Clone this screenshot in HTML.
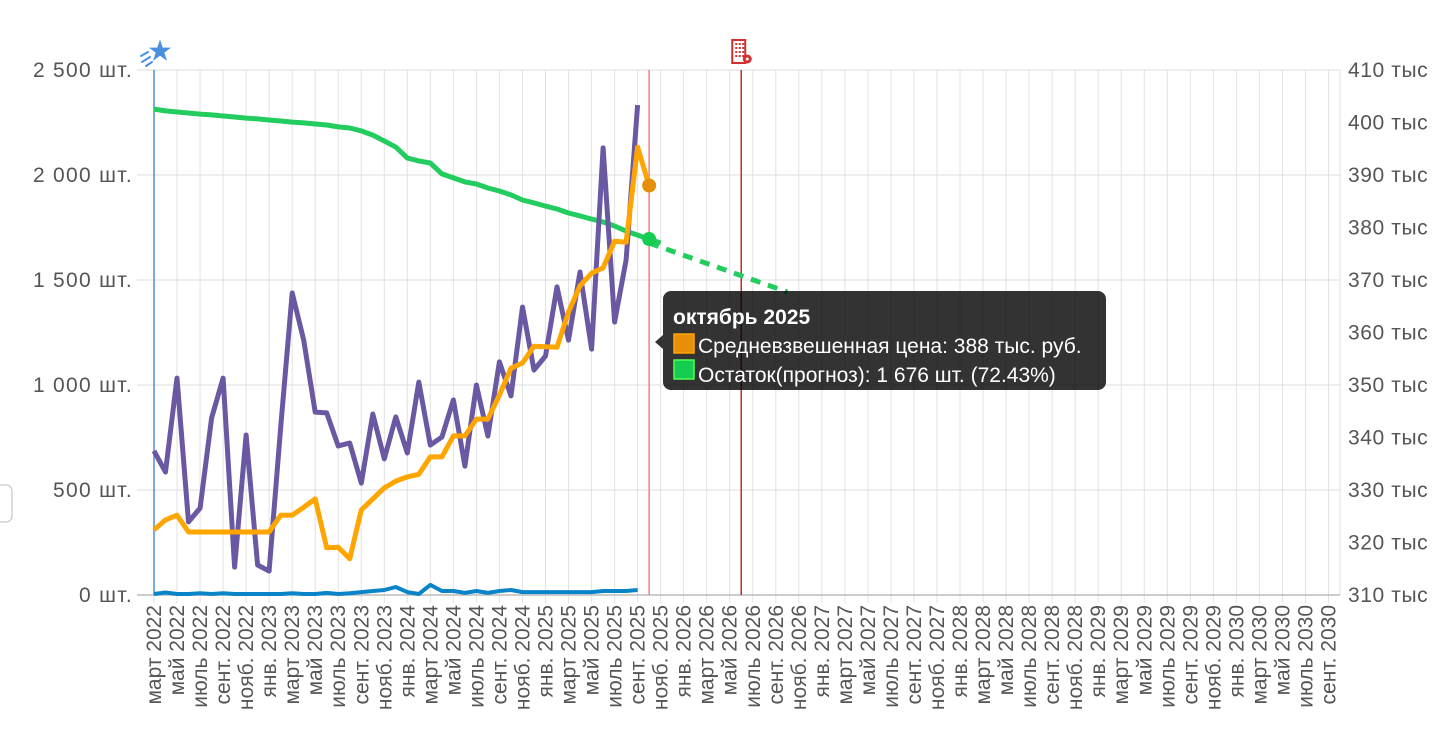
<!DOCTYPE html>
<html><head><meta charset="utf-8">
<style>
html,body{margin:0;padding:0;background:#fff;width:1432px;height:748px;overflow:hidden}
svg{display:block}
text{font-family:"Liberation Sans","Noto Sans CJK SC",sans-serif}
</style></head>
<body>
<svg width="1432" height="748" viewBox="0 0 1432 748">
<rect x="-6" y="485" width="18" height="37" rx="6" fill="#fff" stroke="#bbb"/>
<g id="grid"></g>
<g id="axes"></g>
<g id="series"></g>
<g id="tip"></g>
</svg>
<script>
const monthNames=["янв.","февр.","март","апр.","май","июнь","июль","авг.","сент.","окт.","нояб.","дек."];
const startYear=2022, startMonth=2; // March 2022
const totalMonths=103;
const leftTicks=[0,500,1000,1500,2000,2500];
const rightTicks=[310,320,330,340,350,360,370,380,390,400,410];
const salesValues=[686,585,1033,348,414,843,1033,133,762,143,114,800,1438,1214,871,867,710,724,533,862,648,848,676,1014,714,752,929,614,1000,757,1110,948,1371,1071,1138,1467,1214,1538,1171,2129,1300,1595,2333];
const priceValues=[322.4,324.3,325.2,322,322,322,322,322,322,322,322,325.2,325.2,326.7,328.3,319,319.1,316.9,326.2,328.3,330.4,331.7,332.5,333,336.3,336.3,340.3,340.3,343.5,343.5,348.1,353.2,354.2,357.4,357.3,357.2,363.9,368.9,371.3,372.3,377.4,377.2,395.3,388];
const stockValues=[2314,2305,2300,2295,2290,2286,2281,2276,2271,2267,2262,2257,2252,2248,2243,2238,2229,2224,2210,2190,2162,2133,2081,2067,2057,2005,1986,1967,1957,1938,1924,1905,1881,1867,1852,1838,1819,1805,1790,1776,1757,1733,1714,1695,1676];
const returnsValues=[5,12,5,5,8,5,8,5,5,5,5,5,8,5,5,10,5,8,14,19,24,38,14,5,48,19,19,10,19,10,19,24,14,14,14,14,14,14,14,19,19,19,24];
const forecastIdx=[43,55];
const forecastValues=[1676,1443];
const currentIdx=43, eventIdx=51;

const X0=154, X1=1340, Y0=595, Y1=70;
const xs=i=>X0+i*(X1-X0)/totalMonths;
const yL=v=>Y0-(v-0)/(2500-0)*(Y0-Y1);
const yR=v=>Y0-(v-310)/(410-310)*(Y0-Y1);
const NS="http://www.w3.org/2000/svg";
function mk(tag,attrs,parent,txt){const e=document.createElementNS(NS,tag);for(const k in attrs)e.setAttribute(k,attrs[k]);if(txt!==undefined)e.textContent=txt;parent.appendChild(e);return e;}
const grid=document.getElementById('grid'),axes=document.getElementById('axes'),ser=document.getElementById('series'),tip=document.getElementById('tip');
function fmt(n){return String(n).replace(/\B(?=(\d{3})+(?!\d))/g,' ');}

for(let i=0;i<=totalMonths;i+=2){
  const l=mk('line',{x1:xs(i),x2:xs(i),y1:Y1,y2:Y0+8,stroke:'#e2e2e2','stroke-width':1},grid);
  
  
  if(i<=102){
    const m=(startMonth+i)%12, y=startYear+Math.floor((startMonth+i)/12);
    const t=mk('text',{x:0,y:0,transform:`translate(${xs(i)+7},605) rotate(-90)`,'text-anchor':'end','font-size':21,fill:'#555'},axes,monthNames[m]+' '+y);
    
    
  }
}
mk('line',{x1:X1,x2:X1,y1:Y1,y2:Y0,stroke:'#e2e2e2'},grid);
leftTicks.forEach(v=>{
  const l=mk('line',{x1:137,x2:X1,y1:yL(v),y2:yL(v),stroke:v===0?'#bbb':'#dcdcdc','stroke-width':v===0?1.5:1},grid);
  
  
  const t=mk('text',{x:133,y:yL(v)+7,'text-anchor':'end','font-size':21,'letter-spacing':1.3,fill:'#555'},axes,fmt(v)+' шт.');
  
  
});
rightTicks.forEach(v=>{
  const t=mk('text',{x:1348,y:yR(v)+7,'font-size':21,'letter-spacing':0.6,fill:'#555'},axes,v+' тыс');
  
  
});
// marker lines
let e=mk('line',{x1:xs(0),x2:xs(0),y1:Y1,y2:Y0,stroke:'#4a8fe0','stroke-width':1.5},ser);

e=mk('line',{x1:xs(currentIdx),x2:xs(currentIdx),y1:Y1,y2:Y0,stroke:'#f08080','stroke-width':1.5},ser);

e=mk('line',{x1:xs(eventIdx),x2:xs(eventIdx),y1:Y1,y2:Y0,stroke:'#c62828','stroke-width':1.5},ser);

// icons
e=mk('text',{x:xs(0)-6,y:59,'font-size':24,fill:'#4a8fe0'},ser,'★');

mk('path',{d:`M${xs(0)-13} 56 l7 -4 M${xs(0)-12} 62 l8 -5 M${xs(0)-8} 66 l6 -4`,stroke:'#4a8fe0','stroke-width':2,'stroke-linecap':'round'},ser);
const bx=xs(eventIdx);
e=mk('g',{},ser);

mk('rect',{x:bx-9,y:40,width:13,height:23,fill:'none',stroke:'#d32f2f','stroke-width':2},e);
for(let r=0;r<4;r++)for(let c=0;c<3;c++)mk('rect',{x:bx-6+c*3.5,y:43+r*4,width:2,height:2,fill:'#d32f2f'},e);
mk('circle',{cx:bx+6,cy:59,r:4.5,fill:'#d32f2f'},e);
mk('circle',{cx:bx+6,cy:59,r:1.5,fill:'#fff'},e);

function path(vals,idxStart,yf){return vals.map((v,i)=>(i?'L':'M')+xs(idxStart+i).toFixed(1)+' '+yf(v).toFixed(1)).join(' ');}
e=mk('path',{d:path(returnsValues,0,yL),fill:'none',stroke:'#0a84c8','stroke-width':4,'stroke-linejoin':'round'},ser);

e=mk('path',{d:path(stockValues,0,yL),fill:'none',stroke:'#22cc5e','stroke-width':5,'stroke-linejoin':'round'},ser);

e=mk('path',{d:forecastIdx.map((ix,i)=>(i?'L':'M')+xs(ix)+' '+yL(forecastValues[i])).join(' '),fill:'none',stroke:'#22cc5e','stroke-width':5,'stroke-dasharray':'10 8'},ser);

e=mk('path',{d:path(salesValues,0,yL),fill:'none',stroke:'#6b58a3','stroke-width':5,'stroke-linejoin':'round'},ser);

e=mk('path',{d:path(priceValues,0,yR),fill:'none',stroke:'#ffa500','stroke-width':5,'stroke-linejoin':'round'},ser);

e=mk('circle',{cx:xs(currentIdx),cy:yR(priceValues[currentIdx]),r:7,fill:'#e6900a'},ser);

e=mk('circle',{cx:xs(currentIdx),cy:yL(stockValues[currentIdx]),r:7,fill:'#14cc50'},ser);


// tooltip
mk('path',{d:'M671 291 H1098 a8 8 0 0 1 8 8 V382 a8 8 0 0 1 -8 8 H671 a8 8 0 0 1 -8 -8 V349 L655 342 L663 335 V299 a8 8 0 0 1 8 -8 Z',fill:'rgba(0,0,0,0.8)'},tip);
e=mk('text',{x:673,y:324,'font-size':21,'font-weight':'bold',fill:'#fff'},tip,'октябрь 2025');

mk('rect',{x:674,y:334,width:20,height:19,fill:'#e6900a',stroke:'#ffa500','stroke-width':1.5},tip);
e=mk('text',{x:698,y:353,'font-size':21,fill:'#fff'},tip,'Средневзвешенная цена: 388 тыс. руб.');

mk('rect',{x:674,y:360,width:20,height:19,fill:'#14cc50',stroke:'#5f5','stroke-width':1.5},tip);
e=mk('text',{x:698,y:382,'font-size':21,fill:'#fff'},tip,'Остаток(прогноз): 1 676 шт. (72.43%)');

</script>
</body></html>
